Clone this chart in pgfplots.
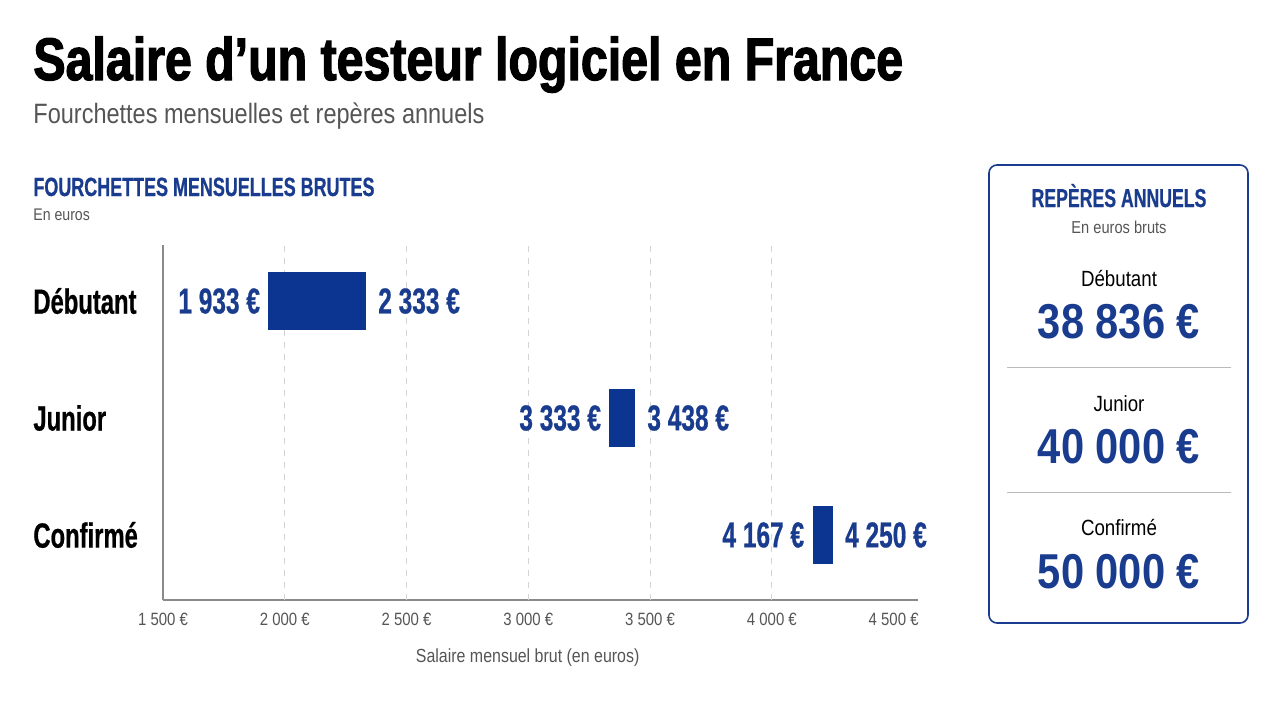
\documentclass[border=0pt]{standalone}
\usepackage{pgfplots}
\pgfplotsset{compat=1.18}
\usepackage{fontspec}
\setmainfont{Liberation Sans}[FakeStretch=0.84]
\newfontfamily\narrowfont{Liberation Sans}[FakeStretch=0.68, BoldFeatures={FakeBold=0.6}]
\newfontfamily\titlefont{Liberation Sans}[FakeStretch=0.805, BoldFeatures={FakeBold=2}]
\newfontfamily\boxfont{Liberation Sans}[FakeStretch=0.85]

\definecolor{barblue}{HTML}{0B3590}
\definecolor{textblue}{HTML}{1A3C8E}
\definecolor{subgray}{HTML}{555555}
\definecolor{gridgray}{HTML}{D4D4D4}
\definecolor{axisgray}{HTML}{8A8A8A}
\definecolor{rulegray}{HTML}{BBBBBB}

\begin{document}
\begin{tikzpicture}
\useasboundingbox (0,0) rectangle (640pt,360pt);

% headings
\node[anchor=base west, inner sep=0, font=\titlefont\bfseries\fontsize{30}{34}\selectfont]
  at (16.5pt,320pt) {Salaire d’un testeur logiciel en France};
\node[anchor=base west, inner sep=0, text=subgray, font=\fontsize{14}{16}\selectfont]
  at (16.5pt,298.5pt) {Fourchettes mensuelles et repères annuels};
\node[anchor=base west, inner sep=0, text=textblue, font=\narrowfont\bfseries\fontsize{13.2}{15}\selectfont]
  at (16.5pt,262pt) {FOURCHETTES MENSUELLES BRUTES};
\node[anchor=base west, inner sep=0, text=subgray, font=\fontsize{8.4}{10}\selectfont]
  at (16.5pt,250pt) {En euros};

% monthly ranges
\begin{axis}[
  at={(81.5pt,60pt)}, anchor=south west,
  scale only axis, width=377.5pt, height=177.5pt,
  xmin=1500, xmax=4600, ymin=0.444, ymax=3.479,
  axis x line*=bottom, axis y line*=left,
  axis line style={axisgray, line width=0.6pt, -},
  major tick length=0pt,
  xtick={1500,2000,...,4500},
  xticklabels={1 500 €,2 000 €,2 500 €,3 000 €,3 500 €,4 000 €,4 500 €},
  xticklabel style={font=\fontsize{8.9}{10}\selectfont, text=subgray, yshift=-3pt},
  extra x ticks={2000,2500,3000,3500,4000},
  extra x tick labels={},
  extra x tick style={grid=major, major grid style={gridgray, dashed, line width=0.5pt}},
  ytick={1,2,3},
  yticklabels={Confirmé,Junior,Débutant},
  yticklabel style={font=\narrowfont\bfseries\fontsize{17.5}{20}\selectfont, text=black,
    anchor=west, inner sep=0pt, xshift=-65pt},
  xlabel={Salaire mensuel brut (en euros)},
  xlabel style={font=\fontsize{9.5}{11}\selectfont, text=subgray,
    at={(axis description cs:0.483,0)}, anchor=center, yshift=-29pt},
  clip=false,
]
% Débutant
\addplot[fill=barblue, draw=none] coordinates {(1933,2.756) (2333,2.756) (2333,3.244) (1933,3.244)};
% Junior
\addplot[fill=barblue, draw=none] coordinates {(3333,1.756) (3438,1.756) (3438,2.244) (3333,2.244)};
% Confirmé
\addplot[fill=barblue, draw=none] coordinates {(4167,0.756) (4250,0.756) (4250,1.244) (4167,1.244)};

% range bounds
\addplot[draw=none, nodes near coords, point meta=explicit symbolic,
  nodes near coords style={anchor=east, inner sep=4pt, text=textblue,
    font=\narrowfont\bfseries\fontsize{18}{20}\selectfont}]
  coordinates {(1933,3) [1 933 €] (3333,2) [3 333 €] (4167,1) [4 167 €]};
\addplot[draw=none, nodes near coords, point meta=explicit symbolic,
  nodes near coords style={anchor=west, inner sep=6pt, text=textblue,
    font=\narrowfont\bfseries\fontsize{18}{20}\selectfont}]
  coordinates {(2333,3) [2 333 €] (3438,2) [3 438 €] (4250,1) [4 250 €]};
\end{axis}

% annual benchmarks panel
\draw[textblue, line width=0.8pt, rounded corners=4pt] (494.5pt,48.5pt) rectangle (624pt,277.5pt);
\node[anchor=base, inner sep=0, text=textblue, font=\narrowfont\bfseries\fontsize{13}{15}\selectfont]
  at (559.5pt,256.5pt) {REPÈRES ANNUELS};
\node[anchor=base, inner sep=0, text=subgray, font=\boxfont\fontsize{8.6}{10}\selectfont]
  at (559.5pt,243.5pt) {En euros bruts};

\node[anchor=base, inner sep=0, font=\boxfont\fontsize{11}{13}\selectfont] at (559.5pt,217pt) {Débutant};
\node[anchor=base, inner sep=0, text=textblue, font=\boxfont\bfseries\fontsize{24.5}{28}\selectfont]
  at (559.5pt,191pt) {38 836 €};
\draw[rulegray, line width=0.5pt] (503.5pt,176.5pt) -- (615.5pt,176.5pt);

\node[anchor=base, inner sep=0, font=\boxfont\fontsize{11}{13}\selectfont] at (559.5pt,154.5pt) {Junior};
\node[anchor=base, inner sep=0, text=textblue, font=\boxfont\bfseries\fontsize{24.5}{28}\selectfont]
  at (559.5pt,128.5pt) {40 000 €};
\draw[rulegray, line width=0.5pt] (503.5pt,114pt) -- (615.5pt,114pt);

\node[anchor=base, inner sep=0, font=\boxfont\fontsize{11}{13}\selectfont] at (559.5pt,92.5pt) {Confirmé};
\node[anchor=base, inner sep=0, text=textblue, font=\boxfont\bfseries\fontsize{24.5}{28}\selectfont]
  at (559.5pt,66pt) {50 000 €};
\end{tikzpicture}
\end{document}
